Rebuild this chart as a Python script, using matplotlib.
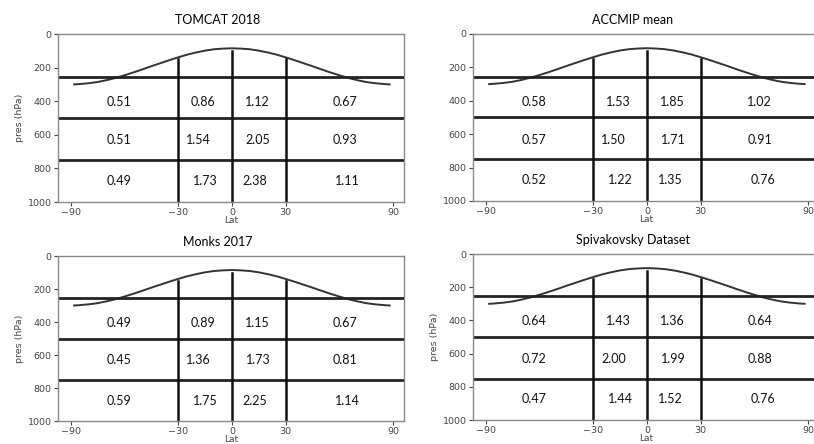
import matplotlib
matplotlib.use("Agg")
import matplotlib.pyplot as plt

# panel titles and cell values (rows: 250-500, 500-750, 750-1000 hPa;
# columns: 90S-30S, 30S-0, 0-30N, 30N-90N)
titles = ["TOMCAT 2018", "ACCMIP mean", "Monks 2017", "Spivakovsky Dataset"]
tomcat = [["0.51", "0.86", "1.12", "0.67"],
          ["0.51", "1.54", "2.05", "0.93"],
          ["0.49", "1.73", "2.38", "1.11"]]
accmip = [["0.58", "1.53", "1.85", "1.02"],
          ["0.57", "1.50", "1.71", "0.91"],
          ["0.52", "1.22", "1.35", "0.76"]]
monks = [["0.49", "0.89", "1.15", "0.67"],
         ["0.45", "1.36", "1.73", "0.81"],
         ["0.59", "1.75", "2.25", "1.14"]]
spiv = [["0.64", "1.43", "1.36", "0.64"],
        ["0.72", "2.00", "1.99", "0.88"],
        ["0.47", "1.44", "1.52", "0.76"]]
tables = [tomcat, accmip, monks, spiv]

# tropopause curve
tp_lat = [-88, -85, -80, -75, -70, -65, -60, -55, -50, -45, -40, -35, -30, -25,
          -20, -15, -10, -5, 0, 5, 10, 15, 20, 25, 30, 35, 40, 45, 50, 55,
          60, 65, 70, 75, 80, 85, 88]
tp_pres = [300, 298, 293, 286, 275, 262, 246, 229, 211, 192, 174, 156, 139, 123,
           110, 99, 91, 87, 85, 87, 91, 99, 110, 123, 139, 156, 174, 192, 211, 229,
           246, 262, 275, 286, 293, 298, 300]

# box boundaries
p_levels = [255, 500, 750]
lat_bounds = [-30, 0, 30]
lat_tops = [150, 100, 150]

xticks = [-90, -30, 0, 30, 90]
yticks = [0, 200, 400, 600, 800, 1000]

# where the numbers sit in each row
row_p = [406, 632, 876]
row_lat = [[-63, -16, 14, 63],
           [-63, -18.5, 14.5, 63],
           [-63, -15, 13, 64.5]]

W, H = 814, 444
fig = plt.figure(figsize=(W / 100, H / 100), dpi=100)

# left, top, bottom in pixels
boxes = [(58, 34, 202), (473, 34, 201), (58, 256, 421), (473, 254, 420)]
ylab = [True, False, True, True]

for k, (l, t, b) in enumerate(boxes):
    ax = fig.add_axes([l / W, 1 - b / H, 346 / W, (b - t) / H])
    ax.set_xlim(-97, 96)
    ax.set_ylim(1000, 0)
    ax.plot(tp_lat, tp_pres, color="#333333", lw=1.4)
    for p in p_levels:
        ax.axhline(p, color="#222222", lw=2.0)
    for la, top in zip(lat_bounds, lat_tops):
        ax.plot([la, la], [top, 1000], color="#111111", lw=1.8)
    tab = tables[k]
    for i in range(3):
        for j in range(4):
            ax.text(row_lat[i][j], row_p[i], tab[i][j], ha="center", va="center",
                    fontsize=9, family="Lato", color="#111111")
    ax.set_xticks(xticks)
    ax.set_xticklabels(["\u221290", "\u221230", "0", "30", "90"])
    ax.set_yticks(yticks)
    ax.tick_params(labelsize=6.8, colors="#444444", length=3, width=0.8, pad=1.5)
    for s in ax.spines.values():
        s.set_color("#888888")
        s.set_linewidth(1.0)
    ax.set_xlabel("Lat", fontsize=6.5, color="#444444", labelpad=-1)
    if ylab[k]:
        ax.set_ylabel("pres (hPa)", fontsize=6.8, color="#444444", labelpad=3)
    ax.set_title(titles[k], x=0.462, fontsize=9, family="Lato", pad=7)

fig.savefig("out.png", dpi=100)
